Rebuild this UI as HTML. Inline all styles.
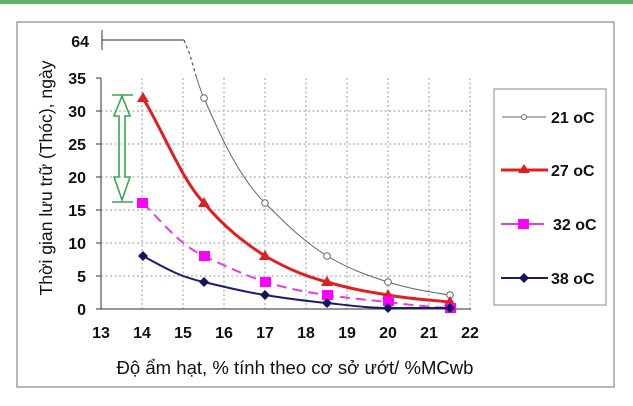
<!DOCTYPE html>
<html><head><meta charset="utf-8"><style>
body{margin:0;background:#fff;}
svg{display:block;font-family:"Liberation Sans",Arial,sans-serif;}
.t{font-weight:bold;font-size:16px;fill:#111;}
</style></head><body>
<svg width="633" height="406" viewBox="0 0 633 406">
<rect x="0" y="0" width="633" height="4" fill="#5cb36a"/>
<rect x="17" y="22" width="597" height="365" fill="#fff" stroke="#888" stroke-width="1.2"/>
<g stroke="#999" stroke-width="1" stroke-dasharray="2,2.5">
<line x1="101" y1="111" x2="471" y2="111"/><line x1="101" y1="144" x2="471" y2="144"/>
<line x1="101" y1="177" x2="471" y2="177"/><line x1="101" y1="210" x2="471" y2="210"/>
<line x1="101" y1="243" x2="471" y2="243"/><line x1="101" y1="276" x2="471" y2="276"/>
<line x1="142" y1="78" x2="142" y2="309"/><line x1="183" y1="78" x2="183" y2="309"/>
<line x1="224" y1="78" x2="224" y2="309"/><line x1="265" y1="78" x2="265" y2="309"/>
<line x1="306" y1="78" x2="306" y2="309"/><line x1="347" y1="78" x2="347" y2="309"/>
<line x1="388" y1="78" x2="388" y2="309"/><line x1="429" y1="78" x2="429" y2="309"/>
<line x1="470" y1="78" x2="470" y2="309"/>
</g>
<g stroke="#555" stroke-width="1.2">
<line x1="101" y1="78" x2="101" y2="309"/><line x1="101" y1="309" x2="471" y2="309"/>
<line x1="96" y1="78" x2="101" y2="78"/><line x1="96" y1="111" x2="101" y2="111"/><line x1="96" y1="144" x2="101" y2="144"/><line x1="96" y1="177" x2="101" y2="177"/><line x1="96" y1="210" x2="101" y2="210"/><line x1="96" y1="243" x2="101" y2="243"/><line x1="96" y1="276" x2="101" y2="276"/><line x1="96" y1="309" x2="101" y2="309"/>
<line x1="102" y1="30" x2="102" y2="50"/><line x1="102" y1="40" x2="184" y2="40"/>
</g>
<path d="M184 40 L190 55 L196 76" stroke="#555" stroke-width="1.2" fill="none" stroke-dasharray="3,3"/>
<g class="t" text-anchor="end">
<text x="89" y="47">64</text>
<text x="86" y="84">35</text><text x="86" y="117">30</text><text x="86" y="150">25</text><text x="86" y="183">20</text><text x="86" y="216">15</text><text x="86" y="249">10</text><text x="86" y="282">5</text><text x="86" y="315">0</text>
</g>
<g class="t" text-anchor="middle">
<text x="101" y="338">13</text><text x="142" y="338">14</text><text x="183" y="338">15</text><text x="224" y="338">16</text><text x="265" y="338">17</text><text x="306" y="338">18</text><text x="347" y="338">19</text><text x="388" y="338">20</text><text x="429" y="338">21</text><text x="470" y="338">22</text>
</g>
<text x="295" y="374" text-anchor="middle" font-size="18.5" fill="#111" textLength="357" lengthAdjust="spacingAndGlyphs">Độ ẩm hạt, % tính theo cơ sở ướt/ %MCwb</text>
<text transform="translate(52,178) rotate(-90)" text-anchor="middle" font-size="17.5" fill="#111" textLength="235" lengthAdjust="spacingAndGlyphs">Thời gian lưu trữ (Thóc), ngày</text>
<g stroke="#3aa552" stroke-width="1.6" fill="none">
<line x1="112" y1="95" x2="133" y2="95"/><line x1="112" y1="202" x2="133" y2="202"/>
<path d="M122 96 L114 116 L119 116 L119 177 L114 177 L122 200 L130 177 L125 177 L125 116 L130 116 Z"/>
</g>
<path d="M196 76 C199 85 201 92 204 98 C222 140 240 178 265 203 C290 228 305 242 327 256 C355 272 370 276 388 282 C410 289 430 292 450 295" stroke="#666" stroke-width="1" fill="none"/>
<g stroke="#666" fill="#fff"><circle cx="204" cy="98" r="3.3"/><circle cx="265" cy="203" r="3.3"/><circle cx="327" cy="256" r="3.3"/><circle cx="388" cy="282" r="3.3"/><circle cx="450" cy="295" r="3.3"/></g>
<path d="M143 98 C165 135 182 180 204 203 C225 228 245 243 265 256 C290 270 305 276 327 282 C355 290 370 292 388 295 C410 299 430 300 450 302" stroke="#e02020" stroke-width="3" fill="none"/>
<g fill="#e02020"><path d="M143 92 L149 102 L137 102Z"/><path d="M204 197 L210 207 L198 207Z"/><path d="M265 250 L271 260 L259 260Z"/><path d="M327 276 L333 286 L321 286Z"/><path d="M388 289 L394 299 L382 299Z"/><path d="M450 296 L456 306 L444 306Z"/></g>
<path d="M143 203 C165 225 180 245 204 256 C225 266 245 275 265 282 C290 289 305 292 327 295 C355 299 370 300 388 302 C410 305 430 307 450 308" stroke="#e040e0" stroke-width="2" fill="none" stroke-dasharray="10,6"/>
<g fill="#ff00ff"><rect x="137" y="198" width="11" height="10"/><rect x="199" y="251" width="11" height="10"/><rect x="260" y="277" width="11" height="10"/><rect x="322" y="290" width="11" height="10"/><rect x="383" y="296" width="11" height="10"/><rect x="445" y="303" width="11" height="10"/></g>
<path d="M143 256 C165 268 180 277 204 282 C225 287 245 292 265 295 C290 299 305 301 327 303 C355 306 370 308 388 308 L450 308" stroke="#1c1c6e" stroke-width="2" fill="none"/>
<g fill="#14145e"><path d="M143 251 L148 256 L143 261 L138 256Z"/><path d="M204 277 L209 282 L204 287 L199 282Z"/><path d="M265 290 L270 295 L265 300 L260 295Z"/><path d="M327 298 L332 303 L327 308 L322 303Z"/><path d="M388 303 L393 308 L388 313 L383 308Z"/><path d="M450 303 L455 308 L450 313 L445 308Z"/></g>
<rect x="494" y="89" width="112" height="216" fill="#fff" stroke="#888" stroke-width="1"/>
<line x1="502" y1="117" x2="546" y2="117" stroke="#666" stroke-width="1"/><circle cx="524" cy="117" r="2.5" fill="#fff" stroke="#666"/>
<text x="551" y="123" class="t">21 oC</text>
<line x1="501" y1="170" x2="548" y2="170" stroke="#e02020" stroke-width="3"/><path d="M524 164 L530 173 L518 173Z" fill="#e02020"/>
<text x="551" y="176" class="t">27 oC</text>
<line x1="501" y1="224" x2="544" y2="224" stroke="#e040e0" stroke-width="2"/><rect x="518" y="219" width="11" height="10" fill="#ff00ff"/>
<text x="553" y="230" class="t">32 oC</text>
<line x1="501" y1="278" x2="548" y2="278" stroke="#1c1c6e" stroke-width="2"/><path d="M524 273 L529 278 L524 283 L519 278Z" fill="#14145e"/>
<text x="551" y="284" class="t">38 oC</text>
</svg>
</body></html>
